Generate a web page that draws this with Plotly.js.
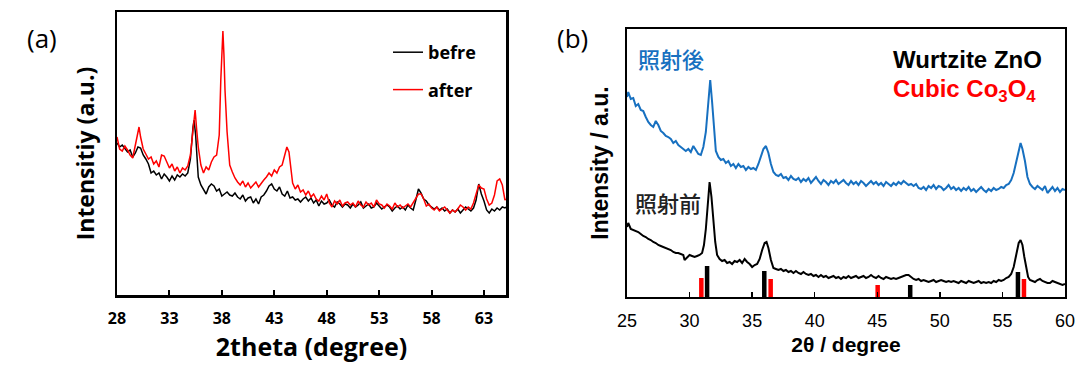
<!DOCTYPE html>
<html><head><meta charset="utf-8">
<script src="https://cdn.plot.ly/plotly-3.0.1.min.js"></script>
<style>html,body{margin:0;padding:0;background:#fff}#chart{width:1080px;height:366px}</style>
</head><body><div id="chart"></div>
<script>
// ---------- Panel (a): 2theta (degree) vs intensity (a.u.) ----------
const beforeA = [[28,152],[28.25,148],[28.5,150],[28.75,146],[29,143],[29.25,145],[29.5,138],[29.75,142],[30,148],[30.25,147],[30.5,140],[30.75,136],[31,131],[31.25,122],[31.5,124],[31.75,120],[32,122],[32.25,116],[32.5,121],[32.75,118],[33,114],[33.25,119],[33.5,115],[33.75,120],[34,118],[34.25,121],[34.5,119],[34.75,122],[35,136],[35.25,168],[35.35,175],[35.5,160],[35.75,118],[36,110],[36.25,106],[36.5,101],[36.75,108],[37,111],[37.25,109],[37.5,104],[37.75,106],[38,99],[38.25,101],[38.5,103],[38.75,100],[39,99],[39.25,102],[39.5,98],[39.75,96],[40,100],[40.25,94],[40.5,97],[40.75,98],[41,92],[41.25,96],[41.5,91],[41.75,98],[42,100],[42.25,104],[42.5,109],[42.75,111],[43,106],[43.25,104],[43.5,108],[43.75,101],[44,99],[44.25,104],[44.5,97],[44.75,98],[45,95],[45.25,96],[45.5,93],[45.75,96],[46,98],[46.25,94],[46.5,97],[46.75,92],[47,95],[47.25,89],[47.5,94],[47.75,91],[48,92],[48.25,95],[48.5,90],[48.75,88],[49,93],[49.25,91],[49.5,88],[49.75,91],[50,90],[50.25,87],[50.5,91],[50.75,88],[51,90],[51.25,93],[51.5,87],[51.75,89],[52,91],[52.25,87],[52.5,88],[52.75,92],[53,89],[53.25,86],[53.5,88],[53.75,90],[54,88],[54.25,84],[54.5,87],[54.75,89],[55,86],[55.25,88],[55.5,85],[55.75,90],[56,87],[56.25,85],[56.5,95],[56.75,106],[57,102],[57.25,96],[57.5,94],[57.75,90],[58,88],[58.25,86],[58.5,88],[58.75,85],[59,87],[59.25,84],[59.5,86],[59.75,82],[60,85],[60.25,83],[60.5,86],[60.75,82],[61,85],[61.25,88],[61.5,86],[61.75,84],[62,87],[62.25,95],[62.5,111],[62.75,101],[63,94],[63.25,85],[63.5,82],[63.75,86],[64,84],[64.25,87],[64.5,85],[64.75,88],[65,87],[65.1,88]];
const afterA = [[28,158],[28.25,146],[28.5,144],[28.75,149],[29,145],[29.25,140],[29.5,137],[29.75,150],[30,165],[30.1,168],[30.25,158],[30.5,146],[30.75,141],[31,136],[31.25,138],[31.5,131],[31.75,134],[32,128],[32.25,140],[32.5,139],[32.75,133],[33,127],[33.25,131],[33.5,124],[33.75,128],[34,122],[34.25,127],[34.5,125],[34.75,129],[35,140],[35.25,165],[35.45,185],[35.6,165],[35.75,148],[36,130],[36.25,122],[36.5,128],[36.75,125],[37,133],[37.25,138],[37.5,140],[37.75,160],[37.9,215],[38.05,258],[38.1,264],[38.2,240],[38.3,205],[38.5,163],[38.75,130],[39,123],[39.25,117],[39.5,113],[39.75,110],[40,114],[40.25,108],[40.5,112],[40.75,107],[41,110],[41.25,113],[41.5,108],[41.75,112],[42,115],[42.25,118],[42.5,122],[42.75,119],[43,125],[43.25,122],[43.5,128],[43.75,130],[44,140],[44.2,148],[44.4,143],[44.6,125],[44.75,112],[45,106],[45.25,110],[45.5,103],[45.75,105],[46,100],[46.25,104],[46.5,98],[46.75,101],[47,96],[47.25,94],[47.5,99],[47.75,95],[48,101],[48.25,92],[48.5,88],[48.75,94],[49,91],[49.25,95],[49.5,89],[49.75,92],[50,93],[50.25,90],[50.5,92],[50.75,88],[51,94],[51.25,90],[51.5,88],[51.75,93],[52,90],[52.25,92],[52.5,88],[52.75,95],[53,91],[53.25,90],[53.5,87],[53.75,91],[54,89],[54.25,86],[54.5,92],[54.75,88],[55,90],[55.25,87],[55.5,89],[55.75,91],[56,88],[56.25,92],[56.5,97],[56.75,101],[57,101],[57.25,96],[57.5,89],[57.75,91],[58,87],[58.25,85],[58.5,88],[58.75,84],[59,86],[59.25,88],[59.5,85],[59.75,82],[60,85],[60.25,83],[60.5,86],[60.75,90],[61,88],[61.25,85],[61.5,88],[61.75,86],[62,92],[62.25,100],[62.5,110],[62.75,107],[63,106],[63.25,96],[63.5,90],[63.75,92],[64,100],[64.25,114],[64.5,116],[64.75,110],[65,95],[65.1,96]];
const ticksA = [28, 33, 38, 43, 48, 53, 58, 63];

// ---------- Panel (b): 2θ / degree vs intensity / a.u. ----------
const afterB = [[25,200],[25.1,205],[25.3,198],[25.5,199],[25.7,191],[25.9,193],[26.1,187],[26.3,186],[26.5,180],[26.7,175],[26.9,172],[27.1,170],[27.3,176],[27.5,172],[27.7,166],[27.9,164],[28.1,161],[28.3,160],[28.5,158],[28.7,154],[28.9,156],[29.1,152],[29.3,150],[29.5,148],[29.7,146],[29.9,148],[30.1,145],[30.3,151],[30.5,147],[30.7,143],[30.9,142],[31.1,150],[31.3,165],[31.5,195],[31.65,217],[31.8,195],[31.95,165],[32.1,146],[32.3,140],[32.5,137],[32.7,138],[32.9,134],[33.1,136],[33.3,131],[33.5,133],[33.7,129],[33.9,133],[34.1,130],[34.3,131],[34.5,127],[34.7,130],[34.9,128],[35.1,129],[35.3,127],[35.5,133],[35.7,141],[35.9,148],[36.1,151],[36.3,144],[36.5,133],[36.7,125],[36.9,122],[37.1,121],[37.3,123],[37.5,119],[37.7,120],[37.9,117],[38.1,121],[38.3,118],[38.5,117],[38.7,119],[38.9,115],[39.1,118],[39.3,116],[39.5,119],[39.7,114],[39.9,117],[40.1,120],[40.3,116],[40.5,113],[40.7,117],[40.9,115],[41.1,112],[41.3,116],[41.5,114],[41.7,117],[41.9,113],[42.1,115],[42.3,117],[42.5,114],[42.7,112],[42.9,116],[43.1,113],[43.3,115],[43.5,112],[43.7,116],[43.9,114],[44.1,111],[44.3,114],[44.5,116],[44.7,113],[44.9,115],[45.1,112],[45.3,114],[45.5,111],[45.7,115],[45.9,113],[46.1,111],[46.3,114],[46.5,112],[46.7,115],[46.9,113],[47.1,116],[47.3,114],[47.5,112],[47.7,113],[47.9,111],[48.1,113],[48.3,109],[48.5,108],[48.7,110],[48.9,107],[49.1,111],[49.3,109],[49.5,112],[49.7,108],[49.9,111],[50.1,110],[50.3,107],[50.5,109],[50.7,112],[50.9,108],[51.1,110],[51.3,107],[51.5,109],[51.7,106],[51.9,109],[52.1,107],[52.3,110],[52.5,106],[52.7,108],[52.9,105],[53.1,108],[53.3,110],[53.5,107],[53.7,105],[53.9,108],[54.1,106],[54.3,109],[54.5,107],[54.7,108],[54.9,110],[55.1,109],[55.3,112],[55.5,113],[55.7,117],[55.9,124],[56.1,135],[56.3,148],[56.45,154],[56.6,148],[56.8,136],[57,120],[57.2,113],[57.4,110],[57.6,108],[57.8,111],[58,109],[58.2,107],[58.4,111],[58.6,104],[58.8,107],[59,110],[59.2,106],[59.4,109],[59.6,105],[59.8,108],[60,107]];
const beforeB = [[25,70],[25.1,74],[25.3,68],[25.5,67],[25.7,66],[25.9,65],[26.1,63],[26.3,61],[26.5,60],[26.7,58],[26.9,57],[27.1,55],[27.3,54],[27.5,52],[27.7,51],[27.9,50],[28.1,49],[28.3,48],[28.5,47],[28.7,45],[28.9,44],[29.1,44],[29.3,43],[29.5,42],[29.6,37],[29.8,40],[30,42],[30.2,41],[30.4,40],[30.6,41],[30.8,42],[31,44],[31.15,52],[31.3,68],[31.45,95],[31.6,115],[31.75,100],[31.9,78],[32.05,55],[32.2,42],[32.4,38],[32.6,36],[32.8,37],[33,34],[33.2,35],[33.4,33],[33.6,36],[33.8,35],[34,37],[34.2,34],[34.4,38],[34.6,35],[34.8,33],[35,30],[35.2,32],[35.4,33],[35.6,38],[35.8,47],[36,54],[36.15,55],[36.3,49],[36.5,37],[36.7,29],[36.9,28],[37.1,27],[37.3,28],[37.5,26],[37.7,27],[37.9,25],[38.1,26],[38.3,24],[38.5,26],[38.7,24],[38.9,23],[39.1,25],[39.3,23],[39.5,22],[39.7,23],[39.9,21],[40.1,22],[40.3,20],[40.5,22],[40.7,20],[40.9,21],[41.1,19],[41.3,20],[41.5,21],[41.7,19],[41.9,20],[42.1,18],[42.3,20],[42.5,19],[42.7,21],[42.9,19],[43.1,20],[43.3,21],[43.5,19],[43.7,20],[43.9,21],[44.1,19],[44.3,20],[44.5,22],[44.7,20],[44.9,19],[45.1,21],[45.3,19],[45.5,18],[45.7,20],[45.9,19],[46.1,18],[46.3,19],[46.5,18],[46.7,19],[46.9,20],[47.1,21],[47.3,22],[47.5,22],[47.7,20],[47.9,18],[48.1,17],[48.3,18],[48.5,16],[48.7,17],[48.9,16],[49.1,15],[49.3,16],[49.5,17],[49.7,15],[49.9,16],[50.1,17],[50.3,16],[50.5,15],[50.7,16],[50.9,15],[51.1,16],[51.3,15],[51.5,14],[51.7,16],[51.9,15],[52.1,14],[52.3,16],[52.5,15],[52.7,14],[52.9,15],[53.1,16],[53.3,14],[53.5,15],[53.7,14],[53.9,15],[54.1,14],[54.3,16],[54.5,15],[54.7,17],[54.9,16],[55.1,17],[55.3,19],[55.5,20],[55.7,23],[55.9,30],[56.1,42],[56.3,54],[56.45,57],[56.6,52],[56.75,40],[56.9,28],[57.05,20],[57.2,17],[57.4,16],[57.6,15],[57.8,17],[58,18],[58.2,16],[58.4,15],[58.6,14],[58.8,14],[59,16],[59.2,15],[59.4,14],[59.6,13],[59.8,12],[60,13]];
// reference patterns (stick positions / relative heights)
const znoPos = [31.4, 35.97, 47.63, 56.24];
const znoHeight = [31, 26, 12, 25];
const co3o4Pos = [30.94, 36.48, 45.03, 56.72];
const co3o4Height = [19, 18, 12, 18];
const ticksB = [25, 30, 35, 40, 45, 50, 55, 60];

const px = a => a.map(p => p[0]);
const py = a => a.map(p => p[1]);

const FA = '"Open Sans", Lato, sans-serif';
const FB = '"Liberation Sans", Arial, sans-serif';
const CJK = '"Noto Sans CJK JP", "Noto Sans CJK SC", sans-serif';
const BLUE = '#1770c0';

const traces = [
  {x: px(beforeA), y: py(beforeA), type: 'scatter', mode: 'lines', name: 'befre',
   line: {color: '#000', width: 1.5}, xaxis: 'x', yaxis: 'y', legendgroup: 'g1'},
  {x: px(afterA), y: py(afterA), type: 'scatter', mode: 'lines', name: 'after',
   line: {color: '#ff0000', width: 1.5}, xaxis: 'x', yaxis: 'y', legendgroup: 'g2'},
  {x: znoPos, y: znoHeight, type: 'bar', width: 0.36, marker: {color: '#000', line: {width: 0}},
   xaxis: 'x2', yaxis: 'y2', showlegend: false, name: 'Wurtzite ZnO'},
  {x: co3o4Pos, y: co3o4Height, type: 'bar', width: 0.36, marker: {color: '#ff0000', line: {width: 0}},
   xaxis: 'x2', yaxis: 'y2', showlegend: false, name: 'Cubic Co3O4'},
  {x: px(afterB), y: py(afterB), type: 'scatter', mode: 'lines', name: '照射後',
   line: {color: BLUE, width: 2}, xaxis: 'x2', yaxis: 'y2', showlegend: false},
  {x: px(beforeB), y: py(beforeB), type: 'scatter', mode: 'lines', name: '照射前',
   line: {color: '#000', width: 2}, xaxis: 'x2', yaxis: 'y2', showlegend: false}
];

const W = 1080, H = 366;
const layout = {
  width: W, height: H,
  margin: {l: 0, r: 0, t: 0, b: 0},
  paper_bgcolor: '#fff', plot_bgcolor: '#fff',
  barmode: 'overlay',
  showlegend: true,
  legend: {x: 388 / W, xanchor: 'left', y: 1 - 34 / H, yanchor: 'top',
           font: {family: FA, size: 18, color: '#000', weight: 'bold'},
           bgcolor: 'rgba(0,0,0,0)', tracegroupgap: 11, traceorder: 'grouped'},
  xaxis: {domain: [117 / W, 506 / W], anchor: 'y', range: [28, 65.1],
          tickvals: ticksA, ticks: 'inside', ticklen: 5, tickwidth: 2, tickcolor: '#000',
          showline: true, linewidth: 2.5, linecolor: '#000', mirror: true,
          showgrid: false, zeroline: false, ticklabelstandoff: 7,
          tickfont: {family: FA, size: 16, color: '#000', weight: 'bold'},
          title: {text: '2theta (degree)', standoff: 1, font: {family: FA, size: 25, color: '#000', weight: 'bold'}}},
  yaxis: {domain: [71 / H, 354 / H], anchor: 'x', range: [0, 283],
          showticklabels: false, ticks: '', showline: true, linewidth: 2.5, linecolor: '#000', mirror: true,
          showgrid: false, zeroline: false,
          title: {text: 'Intensitiy (a.u.)', standoff: 14, font: {family: FA, size: 23, color: '#000', weight: 'bold'}}},
  xaxis2: {domain: [627 / W, 1065 / W], anchor: 'y2', range: [25, 60],
           tickvals: ticksB, ticks: 'inside', ticklen: 5, tickwidth: 1.5, tickcolor: '#000',
           showline: true, linewidth: 2, linecolor: '#000', mirror: true,
           showgrid: false, zeroline: false, ticklabelstandoff: 6,
           tickfont: {family: FB, size: 18, color: '#000'},
           title: {text: '2θ / degree', standoff: 8, font: {family: FB, size: 21, color: '#000', weight: 'bold'}}},
  yaxis2: {domain: [69 / H, 337 / H], anchor: 'x2', range: [0, 268],
           showticklabels: false, ticks: '', showline: true, linewidth: 2, linecolor: '#000', mirror: true,
           showgrid: false, zeroline: false,
           title: {text: 'Intensity / a.u.', standoff: 10, font: {family: FB, size: 23, color: '#000', weight: 'bold'}}},
  annotations: [
    {text: '(a)', xref: 'paper', yref: 'paper', x: 25 / W, y: 1 - 38 / H, xanchor: 'left', yanchor: 'middle',
     showarrow: false, font: {family: FA, size: 26, color: '#000'}},
    {text: '(b)', xref: 'paper', yref: 'paper', x: 555 / W, y: 1 - 38 / H, xanchor: 'left', yanchor: 'middle',
     showarrow: false, font: {family: FA, size: 26, color: '#000'}},
    {text: '照射後', xref: 'paper', yref: 'paper', x: 636 / W, y: 1 - 58 / H, xanchor: 'left', yanchor: 'middle',
     showarrow: false, font: {family: CJK, size: 22, color: BLUE, weight: 500}},
    {text: '照射前', xref: 'paper', yref: 'paper', x: 633 / W, y: 1 - 202 / H, xanchor: 'left', yanchor: 'middle',
     showarrow: false, font: {family: CJK, size: 22, color: '#222', weight: 500}},
    {text: 'Wurtzite ZnO', xref: 'paper', yref: 'paper', x: 891 / W, y: 1 - 60 / H, xanchor: 'left', yanchor: 'middle',
     showarrow: false, font: {family: FB, size: 24, color: '#000', weight: 'bold'}},
    {text: 'Cubic Co<sub>3</sub>O<sub>4</sub>', xref: 'paper', yref: 'paper', x: 891 / W, y: 1 - 91 / H, xanchor: 'left', yanchor: 'middle',
     showarrow: false, font: {family: FB, size: 24, color: '#ff0000', weight: 'bold'}}
  ]
};

Plotly.newPlot('chart', traces, layout, {staticPlot: true, displayModeBar: false});
</script>
</body></html>
